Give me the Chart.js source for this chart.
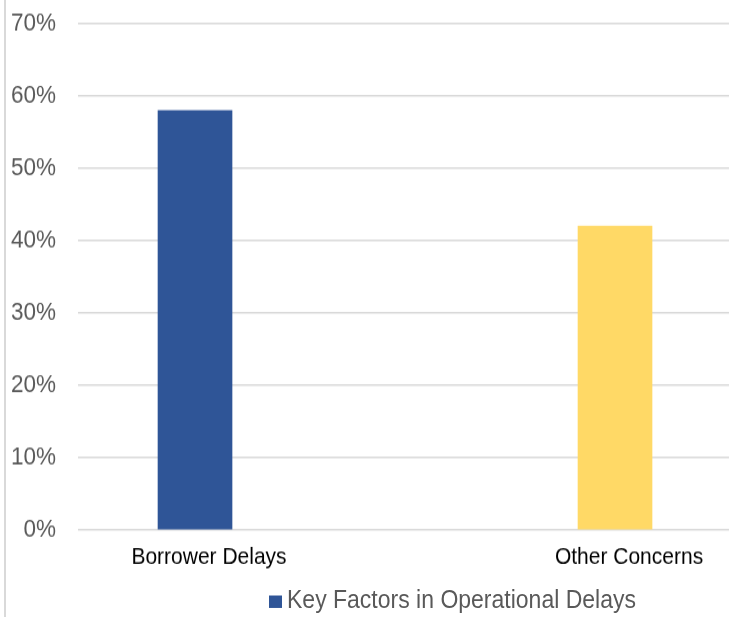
<!DOCTYPE html>
<html>
<head>
<meta charset="utf-8">
<script src="https://cdn.jsdelivr.net/npm/chart.js@4/dist/chart.umd.min.js"></script>
<style>
  html, body { margin: 0; padding: 0; background: #ffffff; overflow: hidden; }
  #wrap { position: absolute; left: 0; top: 0; width: 729px; height: 546px; transform: scaleY(1.13); transform-origin: 0 0; }
  #c { position: absolute; left: 0; top: 0; }
  #legend { position: absolute; left: 269px; top: 517px; height: 26px; font-family: "Liberation Sans", Arial, sans-serif; font-size: 23px; line-height: 26px; color: #595959; white-space: nowrap; }
  #legend .box { display: inline-block; width: 13px; height: 11.5px; margin-right: 5px; vertical-align: 0px; }
  #border { position: absolute; left: 4px; top: 0; width: 2px; height: 617px; background: #d9d9d9; }
</style>
</head>
<body>
<div id="border"></div>
<div id="wrap">
  <canvas id="c" width="729" height="546"></canvas>
  <div id="legend"></div>
</div>
<script>
const categories = ["Borrower Delays", "Other Concerns"];
const seriesName = "Key Factors in Operational Delays";
const values = [58, 42];
const barColors = ["#2F5597", "#FFD966"];
const yTicks = [0, 10, 20, 30, 40, 50, 60, 70];

const ctx = document.getElementById('c').getContext('2d');
const chart = new Chart(ctx, {
  type: 'bar',
  data: {
    datasets: [{
      label: seriesName,
      data: values.map((v, i) => ({ x: i, y: v })),
      backgroundColor: barColors,
      borderWidth: 0,
      barThickness: 74
    }]
  },
  options: {
    responsive: false,
    devicePixelRatio: 1,
    animation: false,
    layout: { padding: { top: 21, left: 0, right: 0, bottom: 37 } },
    plugins: { legend: { display: false }, tooltip: { enabled: false } },
    scales: {
      x: {
        type: 'linear',
        offset: false,
        min: -0.2786,
        max: 1.2714,
        grid: { display: false },
        border: { display: false },
        afterBuildTicks: (scale) => { scale.ticks = categories.map((c, i) => ({ value: i })); },
        afterFit: (scale) => { scale.height = 40; },
        ticks: {
          callback: (v) => categories[v] !== undefined ? categories[v] : '',
          color: '#000000',
          font: { family: '"Liberation Sans", Arial, sans-serif', size: 21 },
          padding: 4,
          labelOffset: 14,
          maxRotation: 0,
          autoSkip: false
        }
      },
      y: {
        min: 0,
        max: 70,
        afterBuildTicks: (scale) => { scale.ticks = yTicks.map(v => ({ value: v })); },
        afterFit: (scale) => { scale.width = 78; scale.paddingTop = 0; scale.paddingBottom = 0; },
        grid: { color: '#d9d9d9', lineWidth: 1.5, drawTicks: false },
        border: { display: false },
        ticks: {
          callback: (v) => v + '%',
          color: '#595959',
          font: { family: '"Liberation Sans", Arial, sans-serif', size: 22.5 },
          padding: 22
        }
      }
    }
  }
});

const legend = document.getElementById('legend');
const box = document.createElement('span');
box.className = 'box';
box.style.background = barColors[0];
legend.appendChild(box);
legend.appendChild(document.createTextNode(seriesName));
</script>
</body>
</html>
